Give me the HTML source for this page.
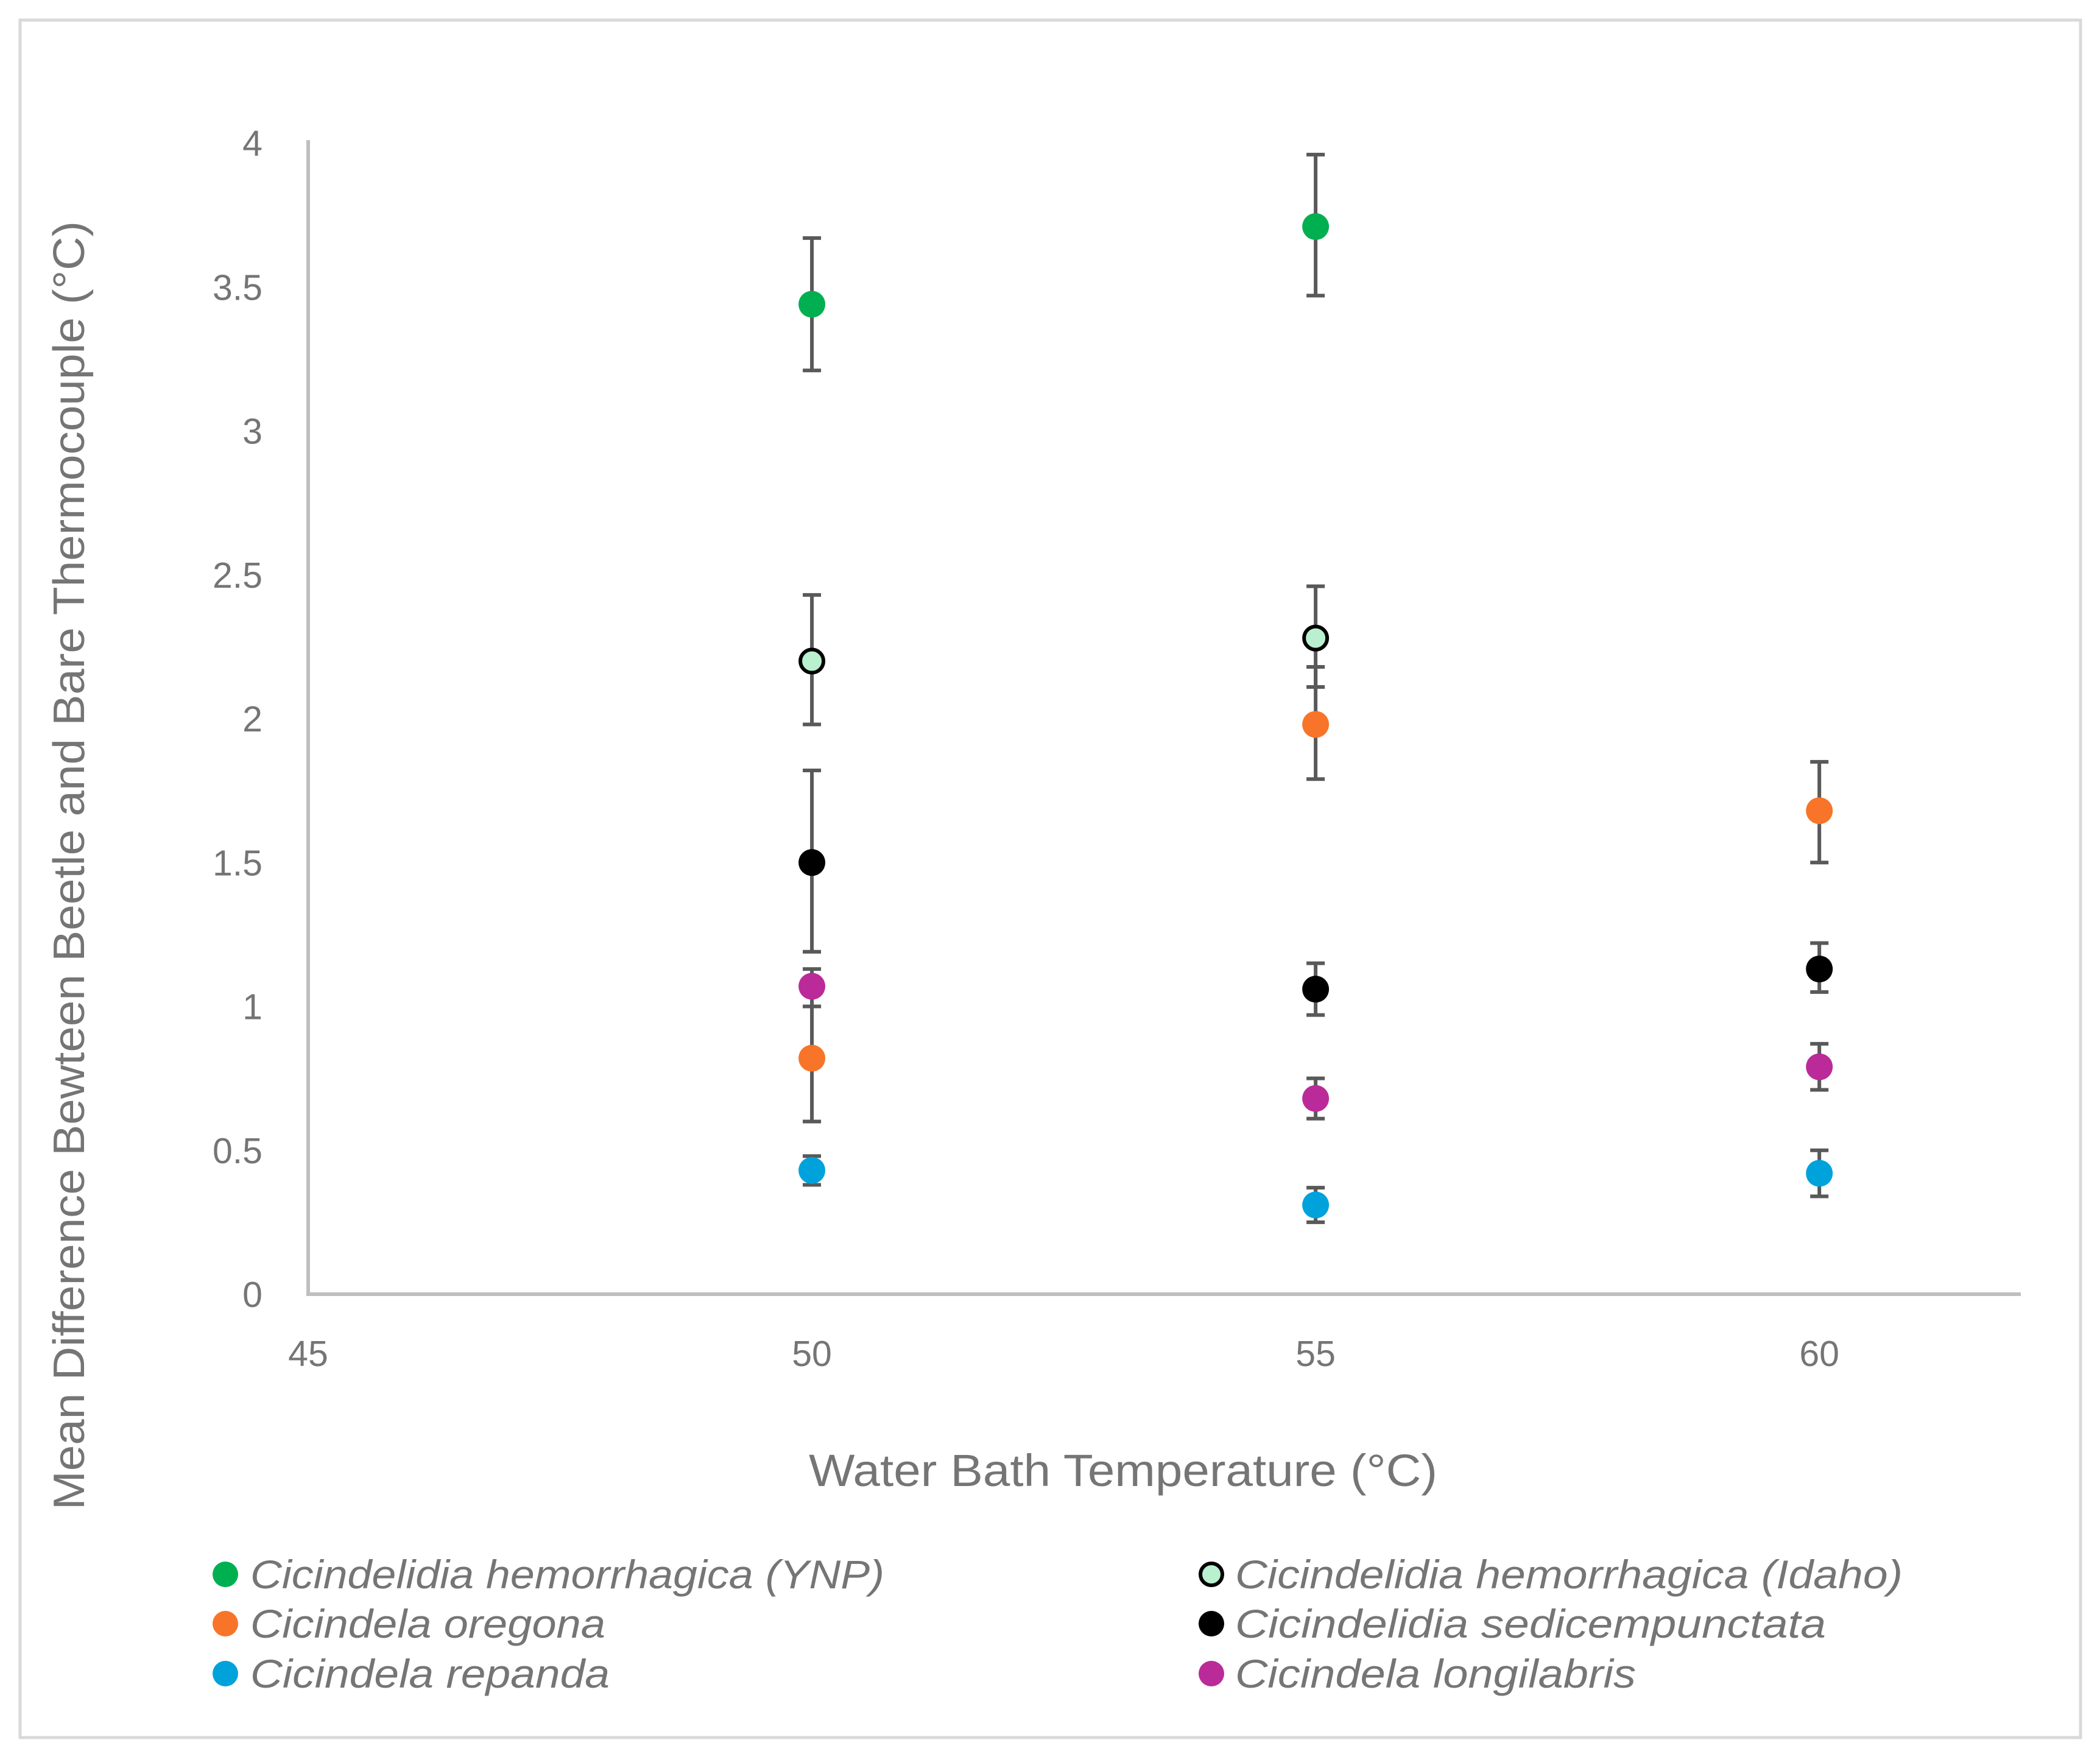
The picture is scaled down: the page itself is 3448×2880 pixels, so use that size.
<!DOCTYPE html>
<html><head><meta charset="utf-8"><style>
html,body{margin:0;padding:0;background:#fff}
svg{display:block}
text{font-family:"Liberation Sans",sans-serif;fill:#757575}
</style></head><body>
<svg id="chart" width="3448" height="2880" viewBox="0 0 3448 2880">
<rect x="33" y="33" width="3383" height="2820" fill="#fff" stroke="#d9d9d9" stroke-width="5"/>
<g id="marks"></g>
<text x="1844" y="2440" font-size="74" text-anchor="middle" textLength="1032" lengthAdjust="spacingAndGlyphs">Water Bath Temperature (°C)</text>
<text transform="translate(138,1421) rotate(-90)" font-size="72" text-anchor="middle" textLength="2116" lengthAdjust="spacingAndGlyphs">Mean Difference Bewteen Beetle and Bare Thermocouple (°C)</text>
</svg>
<script>
const seriesNames=["Cicindelidia hemorrhagica (YNP)","Cicindelidia hemorrhagica (Idaho)","Cicindela oregona","Cicindelidia sedicempunctata","Cicindela repanda","Cicindela longilabris"];
const seriesFill=["#00b050","#b8f0d0","#f87428","#000000","#00a2dc","#bb2a99"];
const seriesStroke=["none","#000","none","none","none","none"];
const legendWidths=[1041,1096,583,970,590,658];
const ynpX=[50,55], ynpY=[3.44,3.71], ynpHi=[3.67,3.96], ynpLo=[3.21,3.47];
const idaX=[50,55], idaY=[2.2,2.28], idaHi=[2.43,2.46], idaLo=[1.98,2.11];
const oreX=[50,55,60], oreY=[0.82,1.98,1.68], oreHi=[1.0,2.18,1.85], oreLo=[0.6,1.79,1.5];
const sedX=[50,55,60], sedY=[1.5,1.06,1.13], sedHi=[1.82,1.15,1.22], sedLo=[1.19,0.97,1.05];
const repX=[50,55,60], repY=[0.43,0.31,0.42], repHi=[0.48,0.37,0.5], repLo=[0.38,0.25,0.34];
const lonX=[50,55,60], lonY=[1.07,0.68,0.79], lonHi=[1.13,0.75,0.87], lonLo=[1.0,0.61,0.71];
const xTicks=[45,50,55,60];
const yTicks=[0,0.5,1,1.5,2,2.5,3,3.5,4];
const yTickLabels=["0","0.5","1","1.5","2","2.5","3","3.5","4"];

const X0=506,X1=3318,XMIN=45,XMAX=62,Y0=2125,Y1=235,YMIN=0,YMAX=4;
const sx=v=>X0+(v-XMIN)/(XMAX-XMIN)*(X1-X0);
const sy=v=>Y0-(v-YMIN)/(YMAX-YMIN)*(Y0-Y1);
const NS="http://www.w3.org/2000/svg";
const g=document.getElementById('marks');
function mk(tag,attrs){const e=document.createElementNS(NS,tag);for(const k in attrs)e.setAttribute(k,attrs[k]);g.appendChild(e);return e;}

let ax=mk('line',{x1:X0,y1:Y1-5,x2:X0,y2:Y0,stroke:'#bfbfbf','stroke-width':6});


ax=mk('line',{x1:X0-3,y1:Y0,x2:X1,y2:Y0,stroke:'#bfbfbf','stroke-width':6});


yTicks.forEach((t,i)=>{const e=mk('text',{x:431,y:sy(t)+21,'font-size':59,'text-anchor':'end'});e.textContent=yTickLabels[i];

});
xTicks.forEach(t=>{const e=mk('text',{x:sx(t),y:2243,'font-size':59,'text-anchor':'middle'});e.textContent=String(t);

});

const data=[[ynpX,ynpY,ynpHi,ynpLo],[idaX,idaY,idaHi,idaLo],[oreX,oreY,oreHi,oreLo],[sedX,sedY,sedHi,sedLo],[repX,repY,repHi,repLo],[lonX,lonY,lonHi,lonLo]];
data.forEach((d,s)=>{d[0].forEach((x,i)=>{const cx=sx(x);
const l=mk('path',{d:`M${cx},${sy(d[2][i])}V${sy(d[3][i])}M${cx-15},${sy(d[2][i])}H${cx+15}M${cx-15},${sy(d[3][i])}H${cx+15}`,stroke:'#595959','stroke-width':6,fill:'none'});

});});
[2,3,5,4,0,1].forEach(s=>{const d=data[s];d[0].forEach((x,i)=>{
const c=mk('circle',{cx:sx(x),cy:sy(d[1][i]),r:seriesStroke[s]==='none'?22:19,fill:seriesFill[s],stroke:seriesStroke[s],'stroke-width':6});

});});
const legX=[370,1989],legTX=[411,2028],legY=[2585,2666,2748];
seriesNames.forEach((n,s)=>{const col=s%2,row=Math.floor(s/2);
const c=mk('circle',{cx:legX[col],cy:legY[row],r:seriesStroke[s]==='none'?21:18,fill:seriesFill[s],stroke:seriesStroke[s],'stroke-width':6});


const t=mk('text',{x:legTX[col],y:legY[row]+23,'font-size':66,'font-style':'italic',textLength:legendWidths[s],lengthAdjust:'spacingAndGlyphs'});t.textContent=n;

});
</script>
</body></html>
